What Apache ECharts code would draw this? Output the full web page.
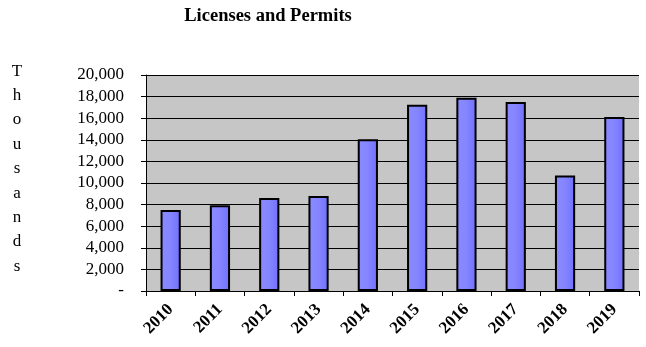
<!DOCTYPE html>
<html><head><meta charset="utf-8">
<script src="https://cdn.jsdelivr.net/npm/echarts@6/dist/echarts.min.js"></script>
<style>html,body{margin:0;padding:0;background:#fff}#c{width:646px;height:347px}</style>
</head><body><div id="c"></div>
<script>
const title = 'Licenses and Permits';
const yName = 'Thousands';
const years = ['2010','2011','2012','2013','2014','2015','2016','2017','2018','2019'];
const values = [7500, 7950, 8600, 8800, 14050, 17250, 17900, 17500, 10700, 16100];

const chart = echarts.init(document.getElementById('c'));
const serif = '"Liberation Serif", "Times New Roman", serif';
chart.setOption({
  animation: false,
  backgroundColor: '#ffffff',
  title: {
    text: title, left: 263, top: 2, textAlign: 'center',
    textStyle: { fontFamily: serif, fontSize: 18.5, fontWeight: 'bold', color: '#000' }
  },
  graphic: [{
    type: 'text', x: 17, y: 59,
    style: { text: yName.split('').join('\n'), fontFamily: serif, fontSize: 17, lineHeight: 24.4, fill: '#000', align: 'center', verticalAlign: 'top' }
  }],
  grid: { left: 146, right: 7, top: 75, bottom: 56, show: true, backgroundColor: '#c6c6c6', borderWidth: 0 },
  xAxis: {
    type: 'category', data: years,
    axisLine: { lineStyle: { color: '#000', width: 1 } },
    axisTick: { show: true, length: 5, lineStyle: { color: '#000' } },
    axisLabel: { rotate: 45, fontFamily: serif, fontSize: 17, fontWeight: 'bold', color: '#000', margin: 16 }
  },
  yAxis: {
    type: 'value', min: 0, max: 20000, interval: 2000,
    axisLine: { show: true, lineStyle: { color: '#000', width: 1 } },
    axisTick: { show: true, length: 5, lineStyle: { color: '#000' } },
    splitLine: { lineStyle: { color: '#000', width: 1 } },
    axisLabel: {
      fontFamily: serif, fontSize: 17, color: '#000', margin: 22,
      formatter: v => v === 0 ? '-' : v.toLocaleString('en-US')
    }
  },
  series: [{
    type: 'bar', data: values, barWidth: '41%',
    itemStyle: {
      color: new echarts.graphic.LinearGradient(0, 0, 1, 0, [
        { offset: 0, color: '#8a8aff' }, { offset: 0.5, color: '#8585ff' }, { offset: 1, color: '#6f6fff' }
      ]),
      borderColor: '#000', borderWidth: 2
    }
  }]
});
</script></body></html>
